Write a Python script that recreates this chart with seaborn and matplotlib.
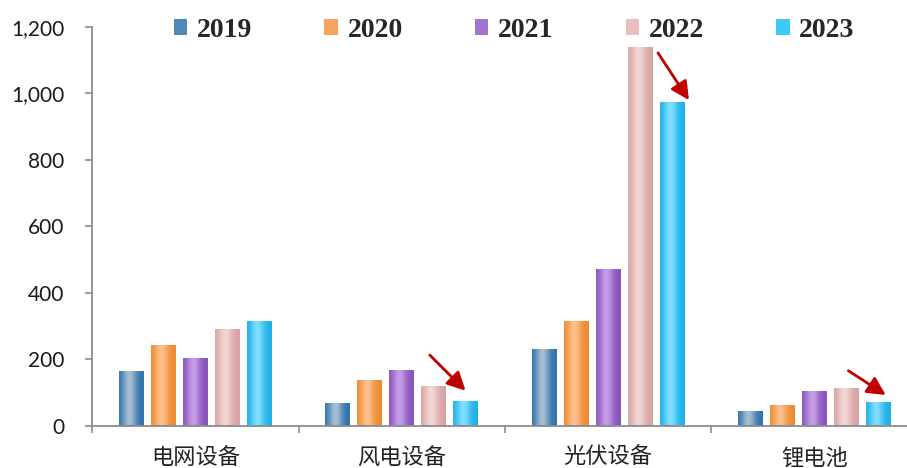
import numpy as np
import pandas as pd
import matplotlib
matplotlib.use("Agg")
import matplotlib.pyplot as plt
from matplotlib.patches import Patch
from matplotlib.colors import to_rgb
import seaborn as sns

# 各行业数据（按年份）
categories = ["电网设备", "风电设备", "光伏设备", "锂电池"]
years = ["2019", "2020", "2021", "2022", "2023"]
v2019 = [163, 68, 231, 45]
v2020 = [243, 137, 314, 62]
v2021 = [203, 166, 472, 103]
v2022 = [291, 120, 1140, 114]
v2023 = [314, 74, 973, 72]
yticks = [0, 200, 400, 600, 800, 1000, 1200]

# colours: edge shade, highlight shade, legend swatch
edge_cols = ["#2F72AE", "#EE8A30", "#8753BB", "#D7A3A3", "#1BB0E8"]
high_cols = ["#A6BECF", "#FCC08C", "#C69DE8", "#F3D6D5", "#80DEFF"]
swatch_cols = ["#4F89B9", "#F5A35E", "#A173D2", "#E9BEBE", "#3FC9F6"]
arrow_col = "#C00000"

values = [v2019, v2020, v2021, v2022, v2023]
df = pd.DataFrame({
    "category": np.repeat([categories], len(years), axis=0).ravel(),
    "year": np.repeat(years, len(categories)),
    "value": np.concatenate(values),
})

sns.set_style("white")
plt.rcParams["font.family"] = ["Noto Sans CJK SC", "DejaVu Sans"]

fig = plt.figure(figsize=(9.07, 4.68), dpi=100)
ax = fig.add_axes([92.3 / 907, 42.5 / 468, 825.2 / 907, 398.5 / 468])

sns.barplot(data=df, x="category", y="value", hue="year", order=categories,
            hue_order=years, palette=edge_cols, saturation=1, width=0.775,
            gap=0.22, legend=False, ax=ax, linewidth=0)

# cylinder-like shading on every bar
t = np.linspace(0, 1, 64)
w = np.exp(-((t - 0.42) / 0.28) ** 2)
for cont, ec, hc in zip(ax.containers, edge_cols, high_cols):
    e = np.array(to_rgb(ec))
    h = np.array(to_rgb(hc))
    grad = (e[None, :] * (1 - w[:, None]) + h[None, :] * w[:, None])[None, :, :]
    for bar in cont:
        x0, y0 = bar.get_x(), bar.get_y()
        bw, bh = bar.get_width(), bar.get_height()
        im = ax.imshow(grad, extent=(x0, x0 + bw, y0, y0 + bh), aspect="auto",
                       interpolation="bilinear", zorder=bar.get_zorder() + 0.1)
        im.set_clip_path(bar)

ax.set_xlim(-0.5, 3.5)
ax.set_ylim(0, 1200)
ax.set_xlabel("")
ax.set_ylabel("")

# axes styling
for side in ["top", "right"]:
    ax.spines[side].set_visible(False)
for side in ["left", "bottom"]:
    ax.spines[side].set_color("#8C8C8C")
    ax.spines[side].set_linewidth(1.3)

ax.set_yticks(yticks)
ax.set_yticklabels([f"{v:,}" for v in yticks], fontfamily="Lato",
                   fontsize=15, color="#1A1A1A")
ax.tick_params(axis="y", direction="out", length=5, width=1.2,
               color="#8C8C8C", pad=15, left=True)

ax.set_xticks(range(len(categories)))
ax.set_xticklabels(categories, fontsize=16, color="#222222")
ax.tick_params(axis="x", which="major", length=0, pad=15)
ax.set_xticks([-0.5, 0.5, 1.5, 2.5, 3.5], minor=True)
ax.tick_params(axis="x", which="minor", direction="out", length=5, width=1.2,
               color="#8C8C8C", bottom=True)

# decline arrows
arrows = [((1.136, 212), (1.309, 105)),
          ((2.242, 1122), (2.392, 980)),
          ((3.165, 165), (3.346, 92))]
for start, end in arrows:
    ax.annotate("", xy=end, xytext=start,
                arrowprops=dict(arrowstyle="-|>,head_length=0.55,head_width=0.28",
                                mutation_scale=20, lw=2, color=arrow_col,
                                shrinkA=0, shrinkB=0), zorder=5)

handles = [Patch(facecolor=c, edgecolor="none") for c in swatch_cols]
leg = fig.legend(handles, years, loc="center", bbox_to_anchor=(0.567, 0.935),
                 ncol=5, frameon=True, facecolor="white", edgecolor="none",
                 framealpha=1, borderpad=0.05, handlelength=0.48,
                 handleheight=0.55, handletextpad=0.35, columnspacing=2.6,
                 prop={"family": "Liberation Serif", "weight": "bold", "size": 20})
leg.set_zorder(10)

fig.savefig("out.png", dpi=100)
